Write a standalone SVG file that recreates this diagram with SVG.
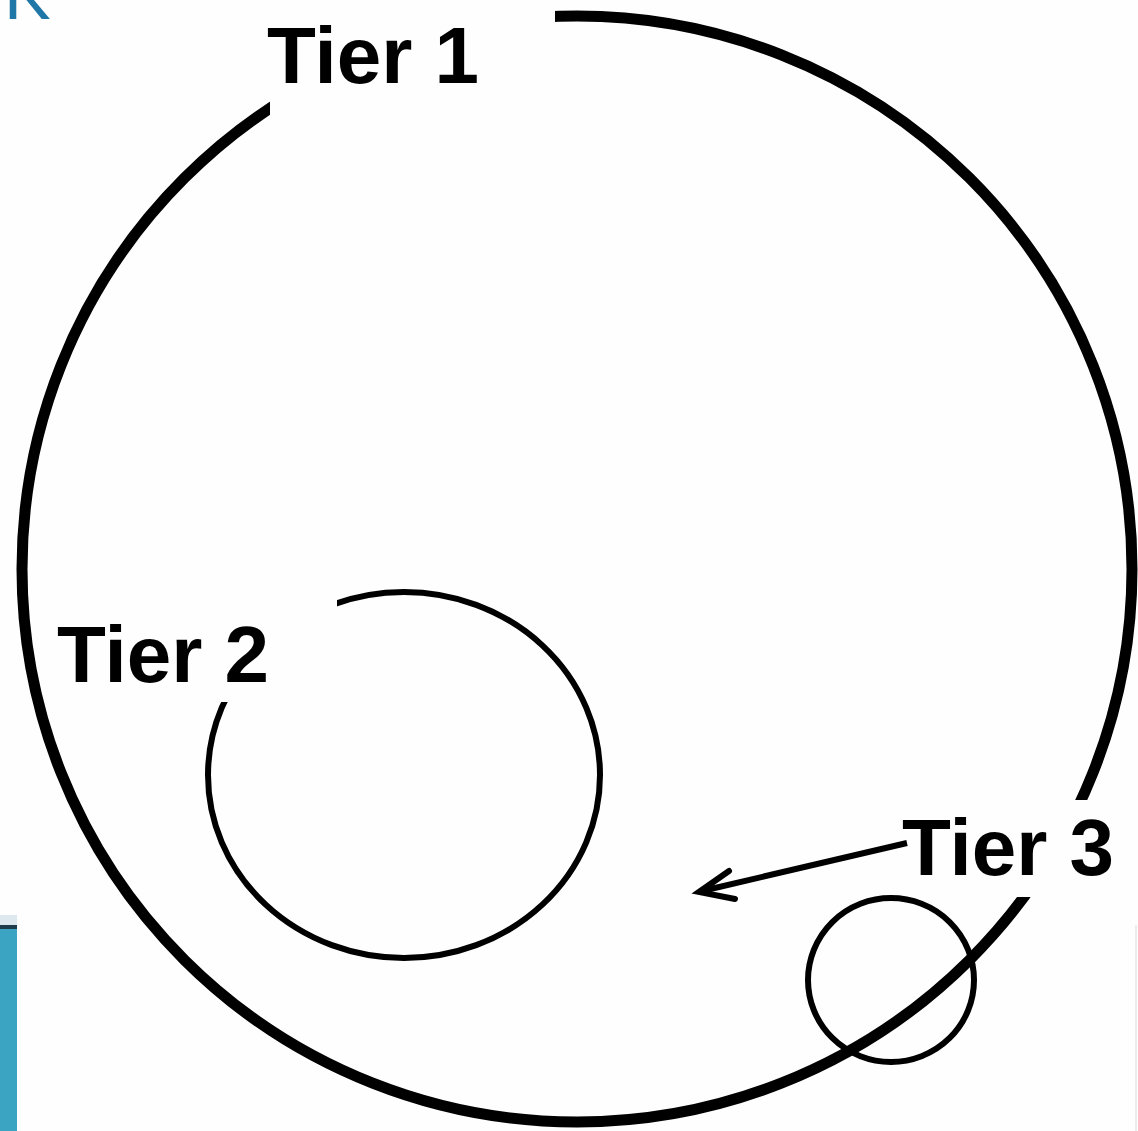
<svg xmlns="http://www.w3.org/2000/svg" width="1138" height="1131" viewBox="0 0 1138 1131">
  <style>
    .label { font-family: "Liberation Sans", Arial, sans-serif; font-weight: bold; font-size: 80px; fill: #000; }
    .mask { fill: #fefefe; }
    .ring { fill: none; stroke: #000; }
    .conn { fill: none; stroke: #000; stroke-width: 6; }
  </style>
  <rect x="0" y="0" width="1138" height="1131" fill="#fefefe"/>
  <!-- cropped logo fragment and side strip -->
  <text x="4" y="19" font-family="Liberation Sans, Arial, sans-serif" font-size="70" fill="#1f77a8">K</text>
  <rect x="0" y="915" width="17" height="216" fill="#3ba4c3"/>
  <rect x="0" y="915" width="17" height="10" fill="#dde8ee"/>
  <rect x="0" y="925" width="17" height="4" fill="#1d3b4a"/>
  <line x1="1136" y1="925" x2="1136" y2="1131" stroke="#e6e6e6" stroke-width="1.5"/>

  <g id="tier1">
    <ellipse class="ring" cx="577" cy="569" rx="555" ry="553" stroke-width="11"/>
    <rect class="mask" x="270" y="0" width="285" height="130"/>
    <rect class="mask" x="990" y="800" width="148" height="97"/>
    <text class="label" x="267" y="83">Tier 1</text>
  </g>
  <g id="tier2">
    <ellipse class="ring" cx="404" cy="775" rx="196" ry="183" stroke-width="6"/>
    <rect class="mask" x="200" y="585" width="137" height="117"/>
    <text class="label" x="57" y="682">Tier 2</text>
  </g>
  <g id="tier3">
    <ellipse class="ring" cx="891" cy="980" rx="83" ry="82" stroke-width="6"/>
    <text class="label" x="902" y="875">Tier 3</text>
  </g>
  <g id="connectors">
    <line class="conn" x1="907" y1="843" x2="702" y2="891"/>
    <polyline class="conn" points="729,871 699,892 735,899" stroke-width="7" stroke-linejoin="miter" stroke-linecap="round"/>
  </g>
</svg>
